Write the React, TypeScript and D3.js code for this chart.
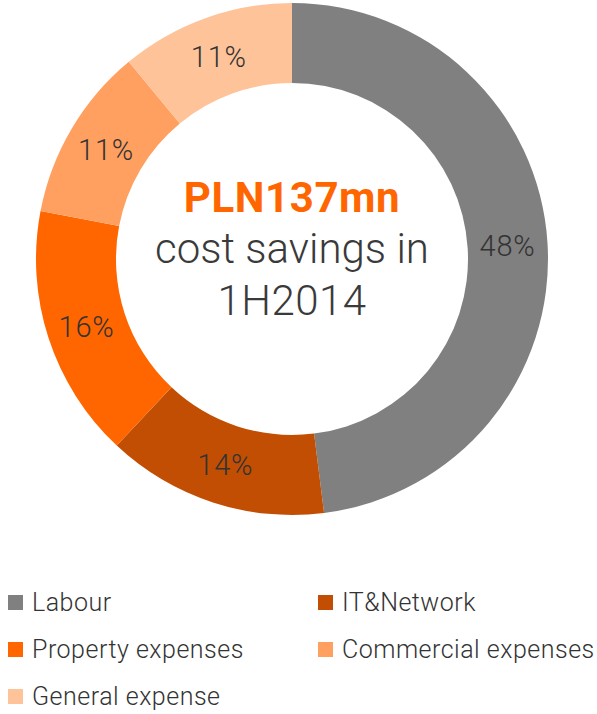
import React from "react";
import * as d3 from "d3";

const categories = ["Labour", "IT&Network", "Property expenses", "Commercial expenses", "General expense"];
const shares = [48, 14, 16, 11, 11];
const colors = ["#808080", "#c24e03", "#ff6600", "#ffa060", "#ffc39a"];
const centerLines = ["PLN137mn", "cost savings in", "1H2014"];

const W = 597;
const H = 714;
const cx = 292;
const cy = 259;
const outerR = 256;
const innerR = 176;
const font = "Roboto, 'Liberation Sans', Arial, sans-serif";

const App = () => {
  const data = categories.map((name, i) => ({ name, value: shares[i], color: colors[i] }));
  const pie = d3.pie<any>().sort(null).value((d: any) => d.value);
  const arcs = pie(data);
  const arc = d3.arc<any>().innerRadius(innerR).outerRadius(outerR);
  const mid = (innerR + outerR) / 2;
  const labelArc = d3.arc<any>().innerRadius(mid).outerRadius(mid);

  // legend: two columns, rows top to bottom
  const colX = d3.scaleOrdinal<number, number>().domain([0, 1]).range([8, 318]);
  const rowY = d3.scaleLinear().domain([0, 1]).range([611, 658]);

  return (
    <svg width={W} height={H} style={{ position: "absolute", left: 0, top: 0 }} fontFamily={font}>
      <g transform={`translate(${cx},${cy})`}>
        {arcs.map((a, i) => (
          <path key={i} d={arc(a) as string} fill={a.data.color} />
        ))}
        {arcs.map((a, i) => {
          const [x, y] = labelArc.centroid(a);
          return (
            <text key={"l" + i} x={x} y={y + 11} textAnchor="middle" fontSize={29} fontWeight={300}
              letterSpacing={0.8} fill="#333">
              {a.data.value}%
            </text>
          );
        })}
        <text x={0} y={-47} textAnchor="middle" fontSize={42} fontWeight={700} letterSpacing={0.6} fill="#ff6600">
          {centerLines[0]}
        </text>
        <text x={0} y={4} textAnchor="middle" fontSize={42} fontWeight={300} fill="#3a3a3a">
          {centerLines[1]}
        </text>
        <text x={0} y={56} textAnchor="middle" fontSize={42} fontWeight={300} letterSpacing={0.5} fill="#3a3a3a">
          {centerLines[2]}
        </text>
      </g>
      {data.map((d, i) => {
        const x = colX(i % 2);
        const y = rowY(Math.floor(i / 2));
        return (
          <g key={"lg" + i}>
            <rect x={x} y={y - 16} width={15} height={15} fill={d.color} />
            <text x={x + 24} y={y} fontSize={25} fontWeight={300} letterSpacing={0.5} fill="#333">
              {d.name}
            </text>
          </g>
        );
      })}
    </svg>
  );
};

export default App;
